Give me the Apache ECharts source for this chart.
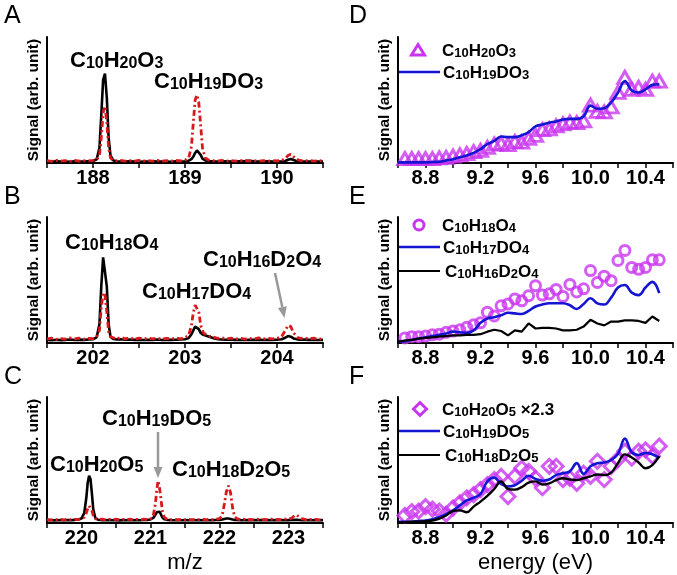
<!DOCTYPE html>
<html><head><meta charset="utf-8">
<script src="https://cdn.jsdelivr.net/npm/echarts@6/dist/echarts.min.js"></script>
<style>html,body{margin:0;padding:0;background:#fff}#c{width:677px;height:575px}</style>
</head><body><div id="c"></div><script>
// ---------- DATA ----------
// Mass spectra rows: [m/z, black (H2O run), red dash-dot (D2O run)]
const specA = [
[187.50,1.2,1.8],[187.55,1.0,1.2],[187.60,1.3,2.0],[187.65,1.1,1.4],[187.70,1.2,1.9],[187.75,1.0,1.3],
[187.80,1.3,2.1],[187.85,1.1,1.5],[187.90,1.2,1.8],[187.95,1.4,1.6],[188.00,1.5,2.0],[188.04,3.0,2.5],
[188.07,12,6],[188.09,38,20],[188.11,66,40],[188.13,71,45],[188.15,52,32],[188.17,20,12],[188.19,6,4],
[188.22,2,2.2],[188.26,1.3,1.6],[188.30,1.2,2.0],[188.35,1.1,1.4],[188.40,1.3,1.9],[188.45,1.2,1.5],
[188.50,1.0,2.0],[188.55,1.2,1.6],[188.60,1.1,1.9],[188.65,1.3,1.4],[188.70,1.2,2.0],[188.75,1.1,1.5],
[188.80,1.2,1.8],[188.85,1.0,1.4],[188.90,1.3,2.0],[188.95,1.2,1.6],[189.00,1.4,2.2],[189.04,1.8,4],
[189.07,3,13],[189.09,5,32],[189.11,8,50],[189.13,10,54],[189.15,9.5,48],[189.17,6.5,30],[189.19,3.5,12],
[189.22,2,4],[189.26,1.4,2.2],[189.30,1.3,1.8],[189.35,1.2,1.4],[189.40,1.1,2.0],[189.45,1.3,1.5],
[189.50,1.2,1.9],[189.55,1.1,1.4],[189.60,1.3,2.0],[189.65,1.5,1.8],[189.70,1.8,1.6],[189.75,1.4,2.0],
[189.80,1.2,1.5],[189.85,1.1,1.9],[189.90,1.3,1.4],[189.95,1.2,2.0],[190.00,1.1,1.6],[190.05,1.2,2.0],
[190.09,1.6,3.5],[190.12,2.6,6],[190.15,3.2,7],[190.18,2.4,5],[190.21,1.6,3],[190.25,1.3,2.0],
[190.30,1.2,1.6],[190.35,1.1,2.0],[190.40,1.3,1.5],[190.45,1.2,1.9],[190.50,1.2,1.6]
];
const specB = [
[201.50,2.5,3.0],[201.55,2.2,3.8],[201.60,2.6,2.8],[201.65,2.3,3.5],[201.70,2.5,3.0],[201.75,2.8,4.0],
[201.80,2.4,3.2],[201.85,2.7,3.8],[201.90,2.5,3.0],[201.95,2.8,3.6],[202.00,3.0,3.4],[202.04,4.5,5],
[202.07,15,10],[202.09,45,28],[202.11,68,40],[202.13,69,38],[202.15,45,25],[202.17,15,9],[202.19,5,5],
[202.22,3.2,4.2],[202.26,2.8,3.2],[202.30,3.0,4.5],[202.35,2.6,3.3],[202.40,2.8,4.2],[202.45,2.5,3.0],
[202.50,2.7,3.8],[202.55,2.4,3.1],[202.60,2.6,4.0],[202.65,2.5,3.2],[202.70,2.8,3.9],[202.75,2.4,3.0],
[202.80,2.7,3.7],[202.85,2.5,3.2],[202.90,2.6,4.0],[202.95,2.8,3.3],[203.00,3.0,4.2],[203.04,4,6],
[203.07,7,14],[203.09,10,24],[203.11,13,30],[203.13,13.5,31],[203.15,11,25],[203.17,8,14],[203.20,6.5,8],
[203.24,5.5,6],[203.28,4.5,5],[203.32,3.5,4.5],[203.36,3.0,3.6],[203.40,2.8,4.2],[203.45,2.6,3.2],
[203.50,2.7,3.9],[203.55,2.5,3.1],[203.60,2.6,3.8],[203.65,2.4,3.0],[203.70,2.6,3.7],[203.75,2.5,3.2],
[203.80,2.7,4.0],[203.85,2.4,3.1],[203.90,2.6,3.8],[203.95,2.5,3.3],[204.00,2.7,3.6],[204.05,3.0,5],
[204.09,4.2,10],[204.12,5.5,14],[204.15,5.0,13],[204.18,3.6,8],[204.22,2.9,4.5],[204.26,2.6,3.6],
[204.30,2.7,4.0],[204.35,2.5,3.2],[204.40,2.6,3.8],[204.45,2.4,3.0],[204.50,2.5,3.5]
];
const specC = [
[219.50,2.2,2.8],[219.55,2.4,2.2],[219.60,2.1,3.0],[219.65,2.3,2.4],[219.70,2.2,2.9],[219.75,2.4,2.3],
[219.80,2.3,3.1],[219.85,2.2,2.5],[219.90,2.5,2.9],[219.95,2.8,2.6],[220.00,3.5,3.2],[220.04,8,4.5],
[220.07,20,8],[220.09,32,11.5],[220.11,37.5,13.6],[220.13,35,13],[220.15,24,10],[220.17,11,6],[220.20,4,3.5],
[220.24,2.6,2.7],[220.30,2.3,3.0],[220.35,2.2,2.4],[220.40,2.4,2.9],[220.45,2.2,2.3],[220.50,2.3,3.0],
[220.55,2.1,2.5],[220.60,2.3,2.9],[220.65,2.2,2.4],[220.70,2.4,3.1],[220.75,2.2,2.5],[220.80,2.3,2.9],
[220.85,2.2,2.4],[220.90,2.4,3.0],[220.95,2.5,2.6],[221.00,2.8,3.2],[221.04,4,6],[221.07,6.5,15],
[221.09,8.5,26],[221.11,9.6,33.6],[221.13,9,28],[221.15,7,20],[221.17,4.5,10],[221.20,3,4.5],
[221.24,2.5,3.0],[221.30,2.3,2.6],[221.35,2.2,3.0],[221.40,2.4,2.4],[221.45,2.2,2.9],[221.50,2.3,2.5],
[221.55,2.2,3.0],[221.60,2.4,2.4],[221.65,2.2,2.9],[221.70,2.3,2.5],[221.75,2.2,3.1],[221.80,2.4,2.4],
[221.85,2.2,2.9],[221.90,2.3,2.6],[221.95,2.4,3.0],[222.00,2.5,3.4],[222.04,2.8,6],[222.07,3.2,15],
[222.10,3.6,25],[222.13,3.6,29.6],[222.16,3.2,24],[222.19,2.8,12],[222.22,2.5,5],[222.26,2.4,3.2],
[222.30,2.3,2.6],[222.35,2.2,3.0],[222.40,2.4,2.4],[222.45,2.2,2.9],[222.50,2.3,2.5],[222.55,2.2,3.0],
[222.60,2.4,2.4],[222.65,2.2,2.9],[222.70,2.3,2.5],[222.75,2.2,3.0],[222.80,2.4,2.4],[222.85,2.2,2.9],
[222.90,2.3,2.5],[222.95,2.2,3.0],[223.00,2.3,3.0],[223.05,2.4,4.0],[223.09,2.5,6],[223.12,2.5,6.4],
[223.15,2.4,5],[223.19,2.3,3.5],[223.25,2.2,2.6],[223.30,2.3,3.0],[223.35,2.2,2.4],[223.40,2.4,2.9],
[223.45,2.2,2.5],[223.50,2.3,2.8]
];
// Photoionization efficiency curves (energy in eV)
const energy = [8.60,8.65,8.70,8.75,8.80,8.85,8.90,8.95,
 9.00,9.05,9.10,9.15,9.20,9.25,9.30,9.35,9.40,9.45,9.50,9.55,9.60,9.65,9.70,9.75,9.80,9.85,9.90,9.95,
 10.00,10.05,10.10,10.15,10.20,10.25,10.30,10.35,10.40,10.45,10.50];
const dTri = [null,3.5,3.5,3.5,3.5,3.5,4,4.5,
 5.5,6.5,7.5,9,10,12.5,15,15.5,14.5,17,16.5,19.5,22,26.5,27,29.5,31,32.5,32,33.5,
 46,41,40.5,44.5,56,68,58.5,60,58.5,65,65];
const dBlue = [0.5,0.5,0.5,0.5,0.5,0.8,1,2,
 3,4.5,6,8,11,15,17.5,21,20.5,20.5,22,24.5,29,30.5,32,33,34.5,35,35,37,
 45.5,43,43.5,48,56,65,57.5,56,58.5,62,62.5];
const eCirc = [null,4,5,5,5.5,6.5,7,8.5,
 9.5,10.5,12.5,14.5,16,24.5,21.5,29.5,31,35,33.5,37.5,45.5,38,39,42.5,37,46.5,40.5,43,
 57.5,48,53,49.5,65.5,73.5,60,58.5,60,66,66];
const eBlue = [1,1.5,2.5,3.5,4.5,5.5,6.5,7.5,
 9,8.5,8,10,16,19.5,20.5,22,24,23.5,23,25.5,29,30.5,31.5,31.5,31.5,30,27,31,
 35.5,31.5,30.5,36,44,46,40,38,44,48.5,39.5];
const eBlack = [1,2,2.5,3.5,4,4.5,5,5.5,
 6,6,6.5,6.5,7,9,10.5,9.5,6,10,9,15.5,11.5,12,12,11.5,10,10,10.5,13,
 18.5,15.5,14,17,17,18,18,17.5,16,21,17.5];
const fDiam = [null,6,9,9.5,13,11,9.5,7,
 12,16,20,22.5,26.5,30.5,34.5,37,21,37,43.5,41,35.5,28,45,45,34.5,35.5,31.5,39.5,
 37,49,34.5,45,50.5,57,51.5,57,58,53,61];
const fBlue = [1,1,1,1.5,2,3,4.5,7,
 10,14,18,20,23,33,36,31,29,30,33.5,37.5,35,33.5,34.5,38,39.5,41,47.5,39,
 45,47.5,48,50,55,67,56,54,55.5,54.5,51.5];
const fBlack = [0.5,0.5,1,1,1.5,2,3.5,6,
 9.5,10,8.5,13,17,21.5,27,33,27,26.5,28.5,32,33,30.5,31.5,34,35.5,34.5,34,35.5,
 37,38.5,38,40,47.5,54.5,52,48,43.5,46,53];
const mzTicksA = [187.5, 190.5], mzTicksB = [201.5, 204.5], mzTicksC = [219.5, 223.5];
const eRange = [8.6, 10.6];

// ---------- STYLE ----------
const FF = '"Liberation Sans", Arial, Helvetica, sans-serif';
const MAG = '#c934f0', BLUE = '#1414d2', RED = '#d7191c', BLK = '#000000', GRAY = '#999999';

const lefts = [47, 398], tops = [37, 217, 397], W = [276, 275], H = 126;
const grids = [], xAxes = [], yAxes = [];
const panels = [
  {col:0,row:0,range:mzTicksA,step:0.5,kind:'mz'},
  {col:0,row:1,range:mzTicksB,step:0.5,kind:'mz'},
  {col:0,row:2,range:mzTicksC,step:0.5,kind:'mz',name:'m/z'},
  {col:1,row:0,range:eRange,step:0.2,kind:'e'},
  {col:1,row:1,range:eRange,step:0.2,kind:'e'},
  {col:1,row:2,range:eRange,step:0.2,kind:'e',name:'energy (eV)'}
];
panels.forEach((p,i)=>{
  grids.push({left:lefts[p.col], top:tops[p.row], width:W[p.col], height:H, outerBoundsMode:'none', containLabel:false});
  xAxes.push({
    type:'value', gridIndex:i, min:p.range[0], max:p.range[1], interval:p.step,
    axisLine:{show:true, onZero:false, lineStyle:{color:BLK, width:2}},
    axisTick:{show:true, length:5, lineStyle:{color:BLK, width:1.5}},
    splitLine:{show:false},
    axisLabel:{margin:5, color:BLK, fontFamily:FF, fontWeight:'bold', fontSize:20,
      showMinLabel:true, showMaxLabel:true,
      formatter: p.kind==='mz'
        ? (v)=> (Math.abs(v-Math.round(v))<1e-6 ? String(Math.round(v)) : '')
        : (v)=> { const r=Math.round(v*10); return (r%4===0 && r>86 && r<106) ? (r/10).toFixed(1) : ''; }
    },
    name:p.name||'', nameLocation:'middle', nameGap:29,
    nameTextStyle:{color:BLK, fontFamily:FF, fontSize:22, fontWeight:'normal'}
  });
  yAxes.push({
    type:'value', gridIndex:i, min:0, max:100,
    axisLine:{show:true, lineStyle:{color:BLK, width:2}},
    axisTick:{show:false}, axisLabel:{show:false}, splitLine:{show:false},
    name:'Signal (arb. unit)', nameLocation:'middle', nameGap:5,
    nameTextStyle:{color:BLK, fontFamily:FF, fontSize:15.5, fontWeight:'bold'}
  });
});

const series = [];
function spec(i, rows){
  series.push({type:'line', xAxisIndex:i, yAxisIndex:i, data:rows.map(r=>[r[0],r[1]]),
    showSymbol:false, symbol:'none', lineStyle:{color:BLK, width:2.6}, z:2});
  series.push({type:'line', xAxisIndex:i, yAxisIndex:i, data:rows.map(r=>[r[0],r[2]]),
    showSymbol:false, symbol:'none', lineStyle:{color:RED, width:2.8, type:[6,3,2,3]}, z:3});
}
spec(0, specA); spec(1, specB); spec(2, specC);
const pair = (arr)=> energy.map((e,k)=>[e, arr[k]]).filter(d=>d[1]!==null);
function sc(i, arr, sym, size){
  series.push({type:'scatter', xAxisIndex:i, yAxisIndex:i, data:pair(arr), symbol:sym, symbolSize:size,
    itemStyle:{color:'rgba(255,255,255,0)', borderColor:MAG, borderWidth:3}, z:2});
}
function ln(i, arr, color, w, smooth){
  series.push({type:'line', xAxisIndex:i, yAxisIndex:i, data:pair(arr), showSymbol:false, symbol:'none',
    smooth:smooth, lineStyle:{color:color, width:w}, z:4});
}
sc(3, dTri, 'triangle', [14,12]); ln(3, dBlue, BLUE, 2.6, 0.4);
sc(4, eCirc, 'circle', 10); ln(4, eBlue, BLUE, 2.6, 0.4); ln(4, eBlack, BLK, 2.2, false);
sc(5, fDiam, 'diamond', [14,14]); ln(5, fBlue, BLUE, 2.6, 0.4); ln(5, fBlack, BLK, 2.4, 0.4);

// ---------- ANNOTATIONS ----------
function fm(s){ return s.replace(/(\d+)/g, '{s|$1}'); }
function ftext(x, y, str, main, sub){
  return {type:'text', x:x, y:y, z:50, style:{text:str, fontFamily:FF, fontSize:main, fontWeight:'bold', fill:BLK,
    align:'left', verticalAlign:'middle',
    rich:{s:{fontFamily:FF, fontSize:sub, fontWeight:'bold', fill:BLK, verticalAlign:'bottom'}}}};
}
const G = [];
// panel letters
[['A',4,16],['B',4,197],['C',4,377],['D',349,16],['E',349,197],['F',349,377]].forEach(t=>{
  G.push({type:'text', x:t[1], y:t[2], style:{text:t[0], fontFamily:FF, fontSize:25, fill:BLK, verticalAlign:'middle'}});
});
// peak labels
G.push(ftext(70, 61, fm('C10H20O3'), 22, 16));
G.push(ftext(154, 82, fm('C10H19DO3'), 22, 16));
G.push(ftext(65, 243, fm('C10H18O4'), 22, 16));
G.push(ftext(142, 292, fm('C10H17DO4'), 22, 16));
G.push(ftext(203, 260, fm('C10H16D2O4'), 22, 16));
G.push(ftext(102, 419, fm('C10H19DO5'), 22, 16));
G.push(ftext(50, 465, fm('C10H20O5'), 22, 16));
G.push(ftext(172, 470, fm('C10H18D2O5'), 22, 16));
// arrows
G.push({type:'line', shape:{x1:275,y1:273,x2:282.3,y2:307}, style:{stroke:GRAY, lineWidth:2.5}});
G.push({type:'polygon', shape:{points:[[284.5,318],[286.7,306.3],[277.9,308.1]]}, style:{fill:GRAY}});
G.push({type:'line', shape:{x1:158,y1:432,x2:158,y2:468}, style:{stroke:GRAY, lineWidth:2.5}});
G.push({type:'polygon', shape:{points:[[158,478],[153.5,467],[162.5,467]]}, style:{fill:GRAY}});
// legends
const LM = 17, LS = 13;
G.push({type:'polygon', shape:{points:[[411.5,55],[424.5,55],[418,44.5]]}, style:{fill:'none', stroke:MAG, lineWidth:3}});
G.push(ftext(442, 51, fm('C10H20O3'), LM, LS));
G.push({type:'line', shape:{x1:398,y1:72,x2:440,y2:72}, style:{stroke:BLUE, lineWidth:2.6}});
G.push(ftext(443, 73, fm('C10H19DO3'), LM, LS));

G.push({type:'circle', shape:{cx:419, cy:225, r:5}, style:{fill:'none', stroke:MAG, lineWidth:3}});
G.push(ftext(442, 226, fm('C10H18O4'), LM, LS));
G.push({type:'line', shape:{x1:398,y1:247,x2:440,y2:247}, style:{stroke:BLUE, lineWidth:2.6}});
G.push(ftext(443, 248, fm('C10H17DO4'), LM, LS));
G.push({type:'line', shape:{x1:398,y1:271,x2:440,y2:271}, style:{stroke:BLK, lineWidth:2.2}});
G.push(ftext(445, 272, fm('C10H16D2O4'), LM, LS));

G.push({type:'polygon', shape:{points:[[420,402.5],[426.5,409],[420,415.5],[413.5,409]]}, style:{fill:'none', stroke:MAG, lineWidth:3}});
G.push(ftext(442, 410, fm('C10H20O5') + ' ×2.3', LM, LS));
G.push({type:'line', shape:{x1:398,y1:431,x2:440,y2:431}, style:{stroke:BLUE, lineWidth:2.6}});
G.push(ftext(443, 432, fm('C10H19DO5'), LM, LS));
G.push({type:'line', shape:{x1:398,y1:455,x2:440,y2:455}, style:{stroke:BLK, lineWidth:2.2}});
G.push(ftext(445, 456, fm('C10H18D2O5'), LM, LS));

const chart = echarts.init(document.getElementById('c'), null, {renderer:'canvas'});
chart.setOption({
  animation:false, backgroundColor:'#ffffff',
  grid:grids, xAxis:xAxes, yAxis:yAxes, series:series, graphic:G
});
</script></body></html>
